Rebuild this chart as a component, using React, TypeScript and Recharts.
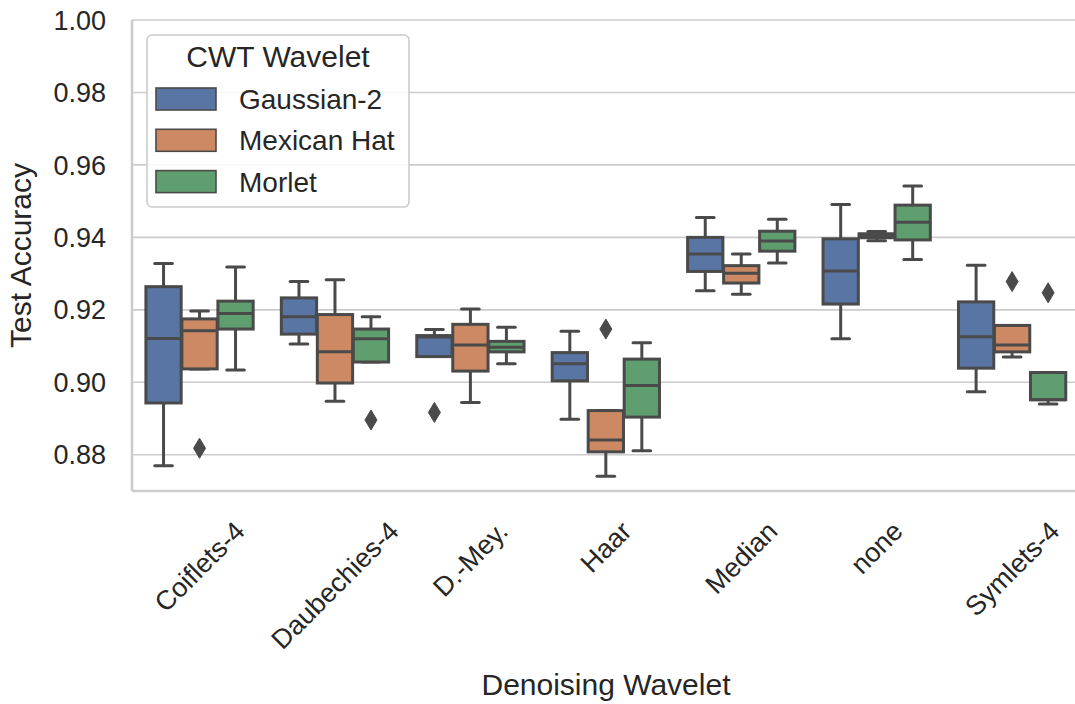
import React from 'react';
import { ComposedChart, Bar, XAxis, YAxis, CartesianGrid, Legend } from 'recharts';

// Denoising wavelets on the x axis
const categories = ['Coiflets-4', 'Daubechies-4', 'D.-Mey.', 'Haar', 'Median', 'none', 'Symlets-4'];

// CWT wavelets (hue)
const hueNames = ['Gaussian-2', 'Mexican Hat', 'Morlet'];
const hueColors = ['#5875a4', '#cc8963', '#5f9e6e'];

// Box statistics per category: [lower whisker, Q1, median, Q3, upper whisker]
const gaussian2Stats = [
  [0.8770, 0.8943, 0.9121, 0.9264, 0.9328],
  [0.9106, 0.9133, 0.9181, 0.9233, 0.9278],
  [0.9071, 0.9071, 0.9125, 0.9129, 0.9146],
  [0.8898, 0.9004, 0.9051, 0.9082, 0.9141],
  [0.9253, 0.9306, 0.9354, 0.9400, 0.9455],
  [0.9120, 0.9216, 0.9307, 0.9396, 0.9491],
  [0.8974, 0.9039, 0.9126, 0.9222, 0.9323],
];
const mexicanHatStats = [
  [0.9037, 0.9037, 0.9142, 0.9175, 0.9197],
  [0.8948, 0.8998, 0.9084, 0.9187, 0.9283],
  [0.8944, 0.9031, 0.9103, 0.9160, 0.9202],
  [0.8741, 0.8808, 0.8841, 0.8922, 0.8922],
  [0.9243, 0.9274, 0.9301, 0.9322, 0.9354],
  [0.9391, 0.9399, 0.9405, 0.9410, 0.9416],
  [0.9070, 0.9084, 0.9103, 0.9157, 0.9157],
];
const morletStats = [
  [0.9034, 0.9147, 0.9190, 0.9224, 0.9318],
  [0.9056, 0.9056, 0.9120, 0.9147, 0.9181],
  [0.9051, 0.9084, 0.9097, 0.9113, 0.9152],
  [0.8811, 0.8904, 0.8991, 0.9064, 0.9109],
  [0.9329, 0.9362, 0.9390, 0.9417, 0.9450],
  [0.9339, 0.9393, 0.9442, 0.9489, 0.9542],
  [0.8940, 0.8952, 0.8952, 0.9027, 0.9027],
];

// Fliers per category
const gaussian2Outliers = [[], [], [0.8917], [], [], [], []];
const mexicanHatOutliers = [[0.8818], [], [], [0.9147], [], [], [0.9278]];
const morletOutliers = [[], [0.8896], [], [], [], [], [0.9247]];

const yTicks = [0.88, 0.9, 0.92, 0.94, 0.96, 0.98, 1.0];

const statsByHue = [gaussian2Stats, mexicanHatStats, morletStats];
const outliersByHue = [gaussian2Outliers, mexicanHatOutliers, morletOutliers];

const data = categories.map((category, i) => ({
  category,
  cells: statsByHue.map((stats, h) => {
    const s = stats[i];
    const o = outliersByHue[h][i];
    const all = [...s, ...o];
    return { stats: s, outliers: o, range: [Math.min(...all), Math.max(...all)] };
  }),
}));

const FONT = '"Liberation Sans", Arial, Helvetica, sans-serif';
const TEXT = '#262626';
const EDGE = '#4a4a4a';
const LW = 3;
const TICK_FS = 27;

let measureCtx: CanvasRenderingContext2D | null = null;
const measure = (s: string, font: string) => {
  if (!measureCtx) measureCtx = document.createElement('canvas').getContext('2d');
  if (!measureCtx) return s.length * 14;
  measureCtx.font = font;
  return measureCtx.measureText(s).width;
};

const makeBox = (h: number) => (props: any) => {
  const { x, y, width, height, payload } = props;
  const cell = payload.cells[h];
  const [lo, hi] = cell.range;
  const top = Math.min(y, y + height);
  const bottom = Math.max(y, y + height);
  const px = (v: number) => (hi === lo ? top : bottom - ((v - lo) / (hi - lo)) * (bottom - top));
  const [wl, q1, med, q3, wh] = cell.stats;
  const cx = x + width / 2;
  const bw = width * 0.98;
  const bx = cx - bw / 2;
  const capHalf = bw / 4;
  const yq1 = px(q1);
  const yq3 = px(q3);
  return (
    <g>
      <line x1={cx} x2={cx} y1={px(wh)} y2={yq3} stroke={EDGE} strokeWidth={LW} />
      <line x1={cx} x2={cx} y1={yq1} y2={px(wl)} stroke={EDGE} strokeWidth={LW} />
      <line x1={cx - capHalf} x2={cx + capHalf} y1={px(wh)} y2={px(wh)} stroke={EDGE} strokeWidth={LW} strokeLinecap="round" />
      <line x1={cx - capHalf} x2={cx + capHalf} y1={px(wl)} y2={px(wl)} stroke={EDGE} strokeWidth={LW} strokeLinecap="round" />
      <rect x={bx} y={yq3} width={bw} height={Math.max(yq1 - yq3, 0.01)} fill={hueColors[h]} stroke={EDGE} strokeWidth={LW} />
      <line x1={bx} x2={bx + bw} y1={px(med)} y2={px(med)} stroke={EDGE} strokeWidth={LW} />
      {cell.outliers.map((v: number, k: number) => {
        const oy = px(v);
        return (
          <path
            key={k}
            d={`M${cx},${oy - 10} L${cx + 6},${oy} L${cx},${oy + 10} L${cx - 6},${oy} Z`}
            fill={EDGE}
            stroke={EDGE}
            strokeWidth={1}
          />
        );
      })}
    </g>
  );
};

const XTick = (props: any) => {
  const { x, y, payload } = props;
  const label = String(payload.value);
  const w = measure(label, `${TICK_FS}px ${FONT}`);
  const cy = y + (w + TICK_FS) * 0.3536;
  return (
    <text
      x={x}
      y={cy}
      transform={`rotate(-45 ${x} ${cy})`}
      textAnchor="middle"
      dominantBaseline="central"
      fontSize={TICK_FS}
      fontFamily={FONT}
      fill={TEXT}
    >
      {label}
    </text>
  );
};

const renderLegend = (props: any) => {
  const payload = props.payload || [];
  return (
    <svg width={266} height={176} style={{ display: 'block' }}>
      <rect x={1} y={1} width={262} height={172} rx={5} ry={5} fill="#ffffff" fillOpacity={0.85} stroke="#cccccc" strokeWidth={1.6} />
      <text x={132} y={33} textAnchor="middle" fontSize={30} fontFamily={FONT} fill={TEXT}>
        CWT Wavelet
      </text>
      {payload.map((entry: any, i: number) => (
        <g key={i}>
          <rect x={10} y={54 + i * 41.3} width={60} height={22} fill={entry.color} stroke={EDGE} strokeWidth={1.6} />
          <text x={93} y={75 + i * 41.3} fontSize={28} fontFamily={FONT} fill={TEXT}>
            {entry.value}
          </text>
        </g>
      ))}
    </svg>
  );
};

const YLabel = (props: any) => {
  const vb = props.viewBox || { x: 0, y: 0, width: 0, height: 0 };
  const lx = vb.x + 31;
  const ly = vb.y + vb.height / 2;
  return (
    <text x={lx} y={ly} transform={`rotate(-90 ${lx} ${ly})`} textAnchor="middle" fontSize={30} fontFamily={FONT} fill={TEXT}>
      Test Accuracy
    </text>
  );
};

const XLabel = (props: any) => {
  const vb = props.viewBox || { x: 0, y: 0, width: 0, height: 0 };
  const lx = vb.x + vb.width / 2;
  const ly = vb.y + vb.height - 9;
  return (
    <text x={lx} y={ly} textAnchor="middle" fontSize={30} fontFamily={FONT} fill={TEXT}>
      Denoising Wavelet
    </text>
  );
};

export default function App() {
  return (
    <div style={{ position: 'absolute', left: 0, top: 0, width: 1075, height: 704, overflow: 'hidden', background: '#ffffff' }}>
      <ComposedChart
        width={1080}
        height={704}
        data={data}
        margin={{ top: 20, right: 0, bottom: 0, left: 0 }}
        barCategoryGap="10%"
        barGap={0}
      >
        <CartesianGrid vertical={false} stroke="#cccccc" strokeWidth={1.6} />
        <XAxis
          dataKey="category"
          type="category"
          height={213}
          tickSize={0}
          tickMargin={26}
          tickLine={false}
          axisLine={{ stroke: '#cccccc', strokeWidth: 2.6 }}
          tick={<XTick />}
          interval={0}
          label={<XLabel />}
        />
        <YAxis
          type="number"
          domain={[0.87, 1.0]}
          ticks={yTicks}
          allowDataOverflow
          width={132}
          tickSize={0}
          tickMargin={26}
          tickLine={false}
          axisLine={{ stroke: '#cccccc', strokeWidth: 2.6 }}
          tickFormatter={(v: number) => v.toFixed(2)}
          tick={{ fill: TEXT, fontSize: TICK_FS, fontFamily: FONT }}
          label={<YLabel />}
        />
        {hueNames.map((name, h) => (
          <Bar
            key={name}
            name={name}
            dataKey={(row: any) => row.cells[h].range}
            fill={hueColors[h]}
            shape={makeBox(h)}
            isAnimationActive={false}
          />
        ))}
        <Legend
          layout="vertical"
          align="center"
          verticalAlign="middle"
          wrapperStyle={{ left: 146, top: 34, width: 266, height: 176 }}
          content={renderLegend}
        />
      </ComposedChart>
    </div>
  );
}
